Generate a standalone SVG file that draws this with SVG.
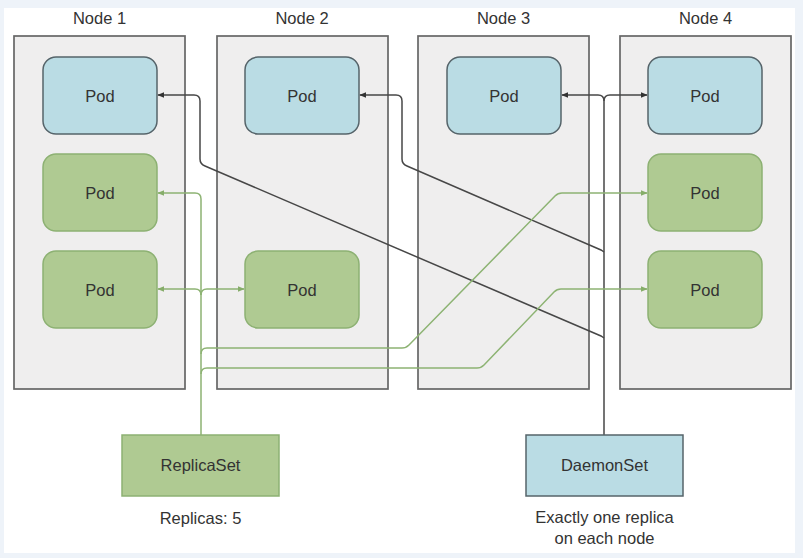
<svg xmlns="http://www.w3.org/2000/svg" width="803" height="558" viewBox="0 0 803 558">
<defs>
<style>
.node{fill:#efeeee;stroke:#666666;stroke-width:1.7}
.blue{fill:#badce4;stroke:#56646a;stroke-width:1.5}
.green{fill:#afca92;stroke:#8db173;stroke-width:1.5}
.t{font-family:"Liberation Sans",Arial,sans-serif;font-size:16.5px;fill:#333;text-anchor:middle}
.d{fill:none;stroke:#474747;stroke-width:1.5}
.g{fill:none;stroke:#8db373;stroke-width:1.5}
</style>
<marker id="ad" viewBox="0 0 10 10" refX="9" refY="5" markerWidth="7" markerHeight="7" orient="auto-start-reverse" markerUnits="userSpaceOnUse"><path d="M0,1 L10,5 L0,9 Z" fill="#333"/></marker>
<marker id="ag" viewBox="0 0 10 10" refX="9" refY="5" markerWidth="7" markerHeight="7" orient="auto-start-reverse" markerUnits="userSpaceOnUse"><path d="M0,1 L10,5 L0,9 Z" fill="#86ad6a"/></marker>
</defs>
<rect x="0" y="0" width="803" height="558" fill="#eef3f9"/>
<rect x="4" y="8" width="791" height="545" fill="#ffffff"/>

<g id="node1">
<rect class="node" x="14" y="36" width="171" height="353"/>
<text class="t" x="99.5" y="24">Node 1</text>
</g>
<g id="node2">
<rect class="node" x="217" y="36" width="171" height="353"/>
<text class="t" x="302" y="24">Node 2</text>
</g>
<g id="node3">
<rect class="node" x="418" y="36" width="171" height="353"/>
<text class="t" x="503.5" y="24">Node 3</text>
</g>
<g id="node4">
<rect class="node" x="620" y="36" width="171" height="353"/>
<text class="t" x="705.5" y="24">Node 4</text>
</g>

<g id="pod-n1-blue"><rect class="blue" x="43" y="57" width="114" height="77" rx="13"/><text class="t" x="100" y="101.5">Pod</text></g>
<g id="pod-n1-green1"><rect class="green" x="43" y="154" width="114" height="77" rx="13"/><text class="t" x="100" y="198.5">Pod</text></g>
<g id="pod-n1-green2"><rect class="green" x="43" y="251" width="114" height="77" rx="13"/><text class="t" x="100" y="295.5">Pod</text></g>
<g id="pod-n2-blue"><rect class="blue" x="245" y="57" width="114" height="77" rx="13"/><text class="t" x="302" y="101.5">Pod</text></g>
<g id="pod-n2-green"><rect class="green" x="245" y="251" width="114" height="77" rx="13"/><text class="t" x="302" y="295.5">Pod</text></g>
<g id="pod-n3-blue"><rect class="blue" x="447" y="57" width="114" height="77" rx="13"/><text class="t" x="504" y="101.5">Pod</text></g>
<g id="pod-n4-blue"><rect class="blue" x="648" y="57" width="114" height="77" rx="13"/><text class="t" x="705" y="101.5">Pod</text></g>
<g id="pod-n4-green1"><rect class="green" x="648" y="154" width="114" height="77" rx="13"/><text class="t" x="705" y="198.5">Pod</text></g>
<g id="pod-n4-green2"><rect class="green" x="648" y="251" width="114" height="77" rx="13"/><text class="t" x="705" y="295.5">Pod</text></g>

<g id="connectors">
<path class="d" d="M604,435 V101 Q604,95 598,95 H562" marker-end="url(#ad)"/>
<path class="d" d="M604,101 Q604,95 610,95 H647" marker-end="url(#ad)"/>
<path class="d" d="M604,252 L601,250 L407,166 Q402,164 402,159 V101 Q402,95 396,95 H360" marker-end="url(#ad)"/>
<path class="d" d="M604,338 L601,336 L205,166 Q200,164 200,159 V101 Q200,95 194,95 H158" marker-end="url(#ad)"/>
<path class="g" d="M201,435 V199 Q201,193 195,193 H158" marker-end="url(#ag)"/>
<path class="g" d="M201,295 Q201,289 195,289 H158" marker-end="url(#ag)"/>
<path class="g" d="M201,295 Q201,289 207,289 H244" marker-end="url(#ag)"/>
<path class="g" d="M201,354 Q201,348 207,348 H402 Q406,348 409,345 L555,196 Q558,193 562,193 H647" marker-end="url(#ag)"/>
<path class="g" d="M201,374 Q201,368 207,368 H477 Q481,368 484,365 L554,292 Q557,289 561,289 H647" marker-end="url(#ag)"/>
</g>

<g id="replicaset">
<rect x="122" y="435" width="157" height="61" fill="#afca92" stroke="#8db173" stroke-width="1.5"/>
<text class="t" x="200.5" y="471">ReplicaSet</text>
<text class="t" x="200.5" y="523.5">Replicas: 5</text>
</g>
<g id="daemonset">
<rect x="526" y="435" width="157" height="61" fill="#badce4" stroke="#56646a" stroke-width="1.5"/>
<text class="t" x="604.5" y="471">DaemonSet</text>
<text class="t" x="604.5" y="523">Exactly one replica</text>
<text class="t" x="604.5" y="544">on each node</text>
</g>
</svg>
